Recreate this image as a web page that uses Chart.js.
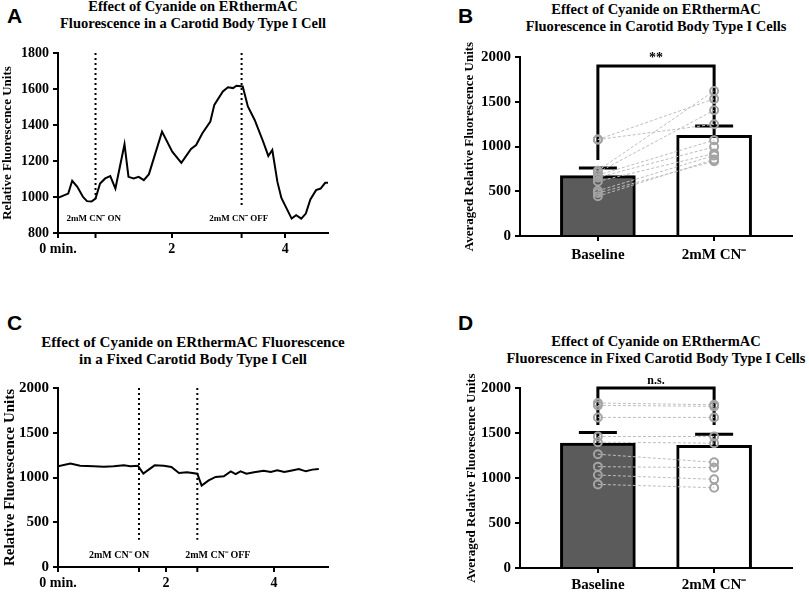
<!DOCTYPE html>
<html>
<head>
<meta charset="utf-8">
<script src="https://cdn.jsdelivr.net/npm/chart.js@4.4.1/dist/chart.umd.min.js"></script>
<style>
body { margin: 0; background: #fff; width: 809px; height: 593px; position: relative; overflow: hidden; }
canvas { position: absolute; }
.letter { position: absolute; font: bold 21px 'Liberation Sans', Arial, sans-serif; line-height: 21px; }
.title { position: absolute; font: bold 14.5px 'Liberation Serif', 'Times New Roman', serif; line-height: 17px;
         text-align: center; white-space: nowrap; transform: translateX(-50%); }
</style>
</head>
<body>
<div class="letter" style="left:7px;top:5px">A</div>
<div class="letter" style="left:458px;top:5px">B</div>
<div class="letter" style="left:7px;top:312px">C</div>
<div class="letter" style="left:458px;top:312px">D</div>

<div class="title" style="left:193px;top:-2px">Effect of Cyanide on ERthermAC<br>Fluorescence in a Carotid Body Type I Cell</div>
<div class="title" style="left:656px;top:1px">Effect of Cyanide on ERthermAC<br>Fluorescence in Carotid Body Type I Cells</div>
<div class="title" style="left:193px;top:334px;font-size:15px">Effect of Cyanide on ERthermAC Fluorescence<br>in a Fixed Carotid Body Type I Cell</div>
<div class="title" style="left:656px;top:333px">Effect of Cyanide on ERthermAC<br>Fluorescence in Fixed Carotid Body Type I Cells</div>

<canvas id="chartA" width="400" height="290" style="left:0;top:0"></canvas>
<canvas id="chartB" width="409" height="290" style="left:400px;top:0"></canvas>
<canvas id="chartC" width="400" height="303" style="left:0;top:290px"></canvas>
<canvas id="chartD" width="409" height="303" style="left:400px;top:290px"></canvas>

<script>
// panel A: live cell trace
var timeA = [0, 0.18, 0.25, 0.34, 0.44, 0.51, 0.59, 0.66, 0.74, 0.83, 0.92, 1.01, 1.17, 1.24, 1.33, 1.42, 1.51, 1.60,
             1.83, 2.01, 2.17, 2.34, 2.43, 2.54, 2.68, 2.75, 2.90, 2.99, 3.08, 3.14, 3.25, 3.34, 3.46, 3.61, 3.70,
             3.77, 3.86, 3.93, 4.11, 4.19, 4.28, 4.36, 4.44, 4.54, 4.62, 4.70, 4.75];
var fluorA = [995, 1019, 1090, 1057, 1000, 977, 975, 991, 1075, 1103, 1116, 1047, 1293, 1112, 1103, 1112, 1094, 1127,
              1363, 1252, 1190, 1267, 1289, 1354, 1419, 1512, 1586, 1610, 1605, 1618, 1614, 1503, 1428, 1307, 1228,
              1261, 1084, 995, 880, 899, 880, 908, 986, 1038, 1047, 1079, 1079];
var xTicksA = [0, 2, 4];
var yTicksA = [800, 1000, 1200, 1400, 1600, 1800];
var eventsA = [0.66, 3.23];

// panel C: fixed cell trace
var timeC = [0, 0.23, 0.41, 0.66, 0.85, 1.03, 1.22, 1.34, 1.48, 1.58, 1.68, 1.79, 1.96, 2.10, 2.24, 2.39, 2.58,
             2.66, 2.79, 2.92, 3.07, 3.20, 3.29, 3.38, 3.49, 3.63, 3.81, 3.94, 4.06, 4.19, 4.31, 4.46, 4.59, 4.71, 4.83];
var fluorC = [1125, 1155, 1132, 1125, 1121, 1125, 1136, 1125, 1132, 1043, 1088, 1136, 1132, 1117, 1050, 1058, 1043,
              909, 968, 1006, 1013, 1069, 1039, 1069, 1043, 1058, 1076, 1061, 1080, 1061, 1076, 1095, 1069, 1088, 1095];
var xTicksC = [0, 2, 4];
var yTicksC = [0, 500, 1000, 1500, 2000];
var eventsC = [1.5, 2.58];

var eventLabels = ['2mM CN\u207B ON', '2mM CN\u207B OFF'];

// panels B and D: averages with paired cells
var groups = ['Baseline', '2mM CN\u207B'];
var yTicksBars = [0, 500, 1000, 1500, 2000];

var meansB = [675, 1125];
var semsB = [85, 105];
var baselineB = [1078, 1078, 730, 710, 680, 655, 610, 505, 480, 445];
var cyanideB = [1532, 1249, 1621, 1405, 1071, 996, 922, 900, 836, 855];

var meansD = [1387, 1364];
var semsD = [119, 123];
var baselineD = [1833, 1807, 1673, 1461, 1398, 1264, 1126, 1033, 929];
var cyanideD = [1814, 1796, 1673, 1461, 1387, 1175, 1115, 985, 892];

Chart.defaults.font.family = "'Liberation Serif', 'Times New Roman', serif";
Chart.defaults.font.weight = 'bold';
Chart.defaults.color = '#000';

var axisGrid = { drawOnChartArea: false, color: '#000', lineWidth: 2, tickLength: 5 };
var axisBorder = { color: '#000', width: 2 };

function tickSetter(list) {
    return function (scale) {
        scale.ticks = list.map(function (v) { return { value: v }; });
    };
}

function plainNumber(v) {
    return String(v);
}

// dotted lines marking when cyanide goes on / off
function markerPlugin(events, cfg) {
    return {
        id: 'markers',
        afterDatasetsDraw: function (chart) {
            var ctx = chart.ctx, xs = chart.scales.x, ys = chart.scales.y;
            ctx.save();
            ctx.strokeStyle = '#000';
            ctx.fillStyle = '#000';
            ctx.lineWidth = 2;
            events.forEach(function (t, i) {
                var px = xs.getPixelForValue(t);
                ctx.setLineDash([2, 3]);
                ctx.beginPath();
                ctx.moveTo(px, ys.top);
                ctx.lineTo(px, ys.getPixelForValue(cfg.lineEnd[i]));
                ctx.stroke();
                ctx.setLineDash([]);
                ctx.beginPath();
                ctx.moveTo(px, ys.bottom);
                ctx.lineTo(px, ys.bottom + 5);
                ctx.stroke();
                ctx.font = 'bold ' + cfg.fontSize + "px 'Liberation Serif', serif";
                ctx.textAlign = 'center';
                ctx.textBaseline = 'middle';
                ctx.fillText(eventLabels[i], xs.getPixelForValue(cfg.labelAt[i]), ys.getPixelForValue(cfg.labelY));
            });
            ctx.restore();
        }
    };
}

// error bars and significance bracket
function statsPlugin(means, sems, cfg) {
    return {
        id: 'stats',
        beforeDatasetsDraw: function (chart) {
            var ctx = chart.ctx, xs = chart.scales.x, ys = chart.scales.y;
            ctx.save();
            ctx.strokeStyle = '#000';
            ctx.lineWidth = 3;
            means.forEach(function (m, i) {
                var px = xs.getPixelForValue(i);
                var top = ys.getPixelForValue(m + sems[i]);
                ctx.beginPath();
                ctx.moveTo(px, ys.getPixelForValue(m));
                ctx.lineTo(px, top);
                ctx.moveTo(px - 19, top);
                ctx.lineTo(px + 19, top);
                ctx.stroke();
            });
            var x0 = xs.getPixelForValue(0), x1 = xs.getPixelForValue(1);
            var yb = ys.getPixelForValue(cfg.bracket);
            ctx.beginPath();
            ctx.moveTo(x0, ys.getPixelForValue(cfg.legs[0]));
            ctx.lineTo(x0, yb);
            ctx.lineTo(x1, yb);
            ctx.lineTo(x1, ys.getPixelForValue(cfg.legs[1]));
            ctx.stroke();
            ctx.fillStyle = '#000';
            ctx.font = 'bold ' + cfg.fontSize + "px 'Liberation Serif', serif";
            ctx.textAlign = 'center';
            ctx.textBaseline = 'bottom';
            ctx.fillText(cfg.text, (x0 + x1) / 2, yb - cfg.textGap);
            ctx.restore();
        }
    };
}

function makeTrace(id, times, values, xTicks, yTicks, events, cfg) {
    var points = times.map(function (t, i) { return { x: t, y: values[i] }; });
    return new Chart(document.getElementById(id), {
        type: 'line',
        data: {
            datasets: [{
                data: points,
                borderColor: '#000',
                borderWidth: 2,
                pointRadius: 0,
                tension: 0,
                fill: false
            }]
        },
        options: {
            responsive: false,
            animation: false,
            layout: { padding: { top: cfg.top, right: cfg.right, left: 0, bottom: 0 } },
            plugins: { legend: { display: false }, tooltip: { enabled: false } },
            scales: {
                x: {
                    type: 'linear',
                    min: 0,
                    max: cfg.xMax,
                    afterBuildTicks: tickSetter(xTicks),
                    afterFit: function (s) { s.height = cfg.xHeight; },
                    ticks: {
                        font: { size: 14 },
                        padding: 3,
                        maxRotation: 0,
                        callback: function (v) { return v === 0 ? '0 min.' : String(v); }
                    },
                    grid: axisGrid,
                    border: axisBorder
                },
                y: {
                    min: yTicks[0],
                    max: yTicks[yTicks.length - 1],
                    afterBuildTicks: tickSetter(yTicks),
                    afterFit: function (s) { s.width = 58; },
                    ticks: { font: { size: cfg.yTickSize }, padding: 4, callback: plainNumber },
                    title: {
                        display: true,
                        text: 'Relative Fluorescence Units',
                        font: { size: cfg.yTitleSize },
                        padding: { top: cfg.yTitlePad, bottom: 0 }
                    },
                    grid: axisGrid,
                    border: axisBorder
                }
            }
        },
        plugins: [markerPlugin(events, cfg.markers)]
    });
}

function makeBars(id, means, sems, before, after, cfg) {
    var datasets = [{
        type: 'bar',
        data: means.map(function (m, i) { return { x: i, y: m }; }),
        backgroundColor: ['#5b5b5b', '#ffffff'],
        borderColor: '#000',
        borderWidth: 3,
        barThickness: 75,
        order: 3
    }];
    before.forEach(function (b, i) {
        datasets.push({
            type: 'line',
            data: [{ x: 0, y: b }, { x: 1, y: after[i] }],
            borderColor: '#bdbdbd',
            borderWidth: 1,
            borderDash: [3, 2],
            pointRadius: 0,
            order: 2
        });
    });
    datasets.push({
        type: 'line',
        showLine: false,
        data: before.map(function (b) { return { x: 0, y: b }; })
            .concat(after.map(function (a) { return { x: 1, y: a }; })),
        pointRadius: 4,
        pointBorderWidth: 2,
        pointBorderColor: '#a3a3a3',
        pointBackgroundColor: 'rgba(0,0,0,0)',
        order: 1
    });

    return new Chart(document.getElementById(id), {
        type: 'bar',
        data: { datasets: datasets },
        options: {
            responsive: false,
            animation: false,
            layout: { padding: { top: cfg.top, right: 17, left: 0, bottom: 0 } },
            plugins: { legend: { display: false }, tooltip: { enabled: false } },
            scales: {
                x: {
                    type: 'linear',
                    min: -0.67,
                    max: 1.67,
                    offset: false,
                    afterBuildTicks: tickSetter([0, 1]),
                    afterFit: function (s) { s.height = cfg.xHeight; },
                    ticks: {
                        font: { size: 15 },
                        padding: cfg.xPad,
                        maxRotation: 0,
                        callback: function (v) { return groups[v]; }
                    },
                    grid: { drawOnChartArea: false, color: '#000', lineWidth: 2, tickLength: 5, offset: false },
                    border: axisBorder
                },
                y: {
                    min: 0,
                    max: 2000,
                    afterBuildTicks: tickSetter(yTicksBars),
                    afterFit: function (s) { s.width = 120; },
                    ticks: { font: { size: 15 }, padding: 4, callback: plainNumber },
                    title: {
                        display: true,
                        text: 'Averaged Relative Fluorescence Units',
                        font: { size: 13 },
                        padding: { top: cfg.yTitlePad, bottom: 0 }
                    },
                    grid: axisGrid,
                    border: axisBorder
                }
            }
        },
        plugins: [statsPlugin(means, sems, cfg.stats)]
    });
}

makeTrace('chartA', timeA, fluorA, xTicksA, yTicksA, eventsA, {
    top: 53, right: 72, xMax: 4.75, xHeight: 57, yTickSize: 14, yTitleSize: 13, yTitlePad: 0,
    markers: { lineEnd: [990, 955], labelAt: [0.63, 3.18], labelY: 878, fontSize: 9 }
});

makeTrace('chartC', timeC, fluorC, xTicksC, yTicksC, eventsC, {
    top: 98, right: 72, xMax: 5.0, xHeight: 26, yTickSize: 15, yTitleSize: 15, yTitlePad: 1,
    markers: { lineEnd: [305, 305], labelAt: [1.13, 2.96], labelY: 130, fontSize: 10 }
});

makeBars('chartB', meansB, semsB, baselineB, cyanideB, {
    top: 57, xHeight: 54, xPad: 5, yTitlePad: 62,
    stats: { bracket: 1900, legs: [850, 1235], text: '**', fontSize: 14, textGap: 1 }
});

makeBars('chartD', meansD, semsD, baselineD, cyanideD, {
    top: 98, xHeight: 25, xPad: 3, yTitlePad: 64,
    stats: { bracket: 2000, legs: [1590, 1590], text: 'n.s.', fontSize: 12, textGap: 1 }
});
</script>
</body>
</html>
